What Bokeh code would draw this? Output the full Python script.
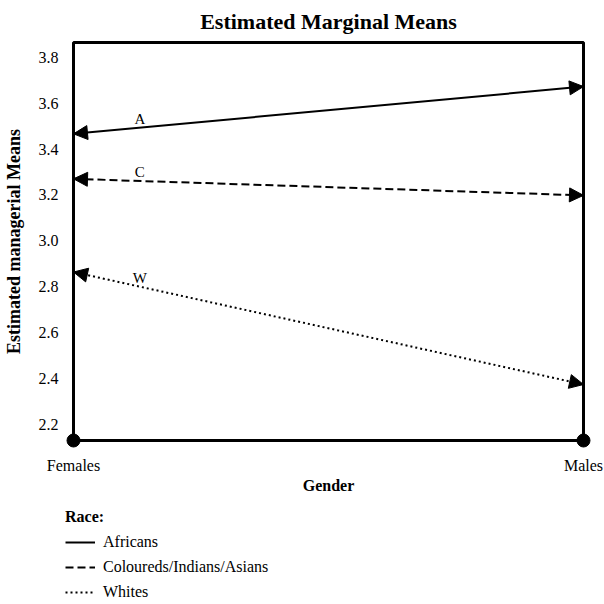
from bokeh.plotting import figure
from bokeh.layouts import column
from bokeh.models import (ColumnDataSource, Range1d, FixedTicker, Arrow, NormalHead,
                          Legend, LegendItem, BoxAnnotation)
from bokeh.embed import file_html
from bokeh.resources import INLINE
from bokeh.core.properties import value

# ---- data ----
genders = ["Females", "Males"]
gender_pos = [0, 1]
races = ["Africans", "Coloureds/Indians/Asians", "Whites"]
race_codes = ["A", "C", "W"]
africans = [3.466, 3.672]
coloureds = [3.270, 3.198]
whites = [2.864, 2.374]
y_ticks = [2.2, 2.4, 2.6, 2.8, 3.0, 3.2, 3.4, 3.6, 3.8]

series = [africans, coloureds, whites]
dashes = ["solid", "8 4", "2 3"]

FONT = "Liberation Serif"
Y_MIN, Y_MAX = 2.13, 3.864
X_MIN, X_MAX = 0, 1

BOX_W, BOX_H, PAD = 510, 398, 8
x_pad = (X_MAX - X_MIN) * PAD / BOX_W
y_pad = (Y_MAX - Y_MIN) * PAD / BOX_H
TOTAL_W = 596

p = figure(output_backend="svg", toolbar_location=None,
           frame_width=BOX_W + 2 * PAD, frame_height=BOX_H + 2 * PAD,
           x_range=Range1d(X_MIN - x_pad, X_MAX + x_pad),
           y_range=Range1d(Y_MIN - y_pad, Y_MAX + y_pad),
           min_border_left=57, min_border_right=13, min_border_top=34,
           min_border_bottom=0)

p.title.text = "Estimated Marginal Means"
p.title.align = "center"
p.title.text_font = FONT
p.title.text_font_size = "22px"
p.title.text_font_style = "bold"
p.title.text_color = "black"
p.title.standoff = 2

p.grid.visible = False
p.outline_line_color = None

# visible box around the data area
p.add_layout(BoxAnnotation(left=X_MIN, right=X_MAX, bottom=Y_MIN, top=Y_MAX,
                           fill_alpha=0, line_color="black", line_alpha=1,
                           line_width=3))

# axes
p.xaxis.ticker = FixedTicker(ticks=gender_pos)
p.xaxis.major_label_overrides = {pos: g for pos, g in zip(gender_pos, genders)}
p.yaxis.ticker = FixedTicker(ticks=y_ticks)
p.yaxis.major_label_overrides = {t: f"{t:.1f}" for t in y_ticks}
for ax in (p.xaxis[0], p.yaxis[0]):
    ax.axis_line_color = None
    ax.major_tick_line_color = None
    ax.minor_tick_line_color = None
    ax.major_tick_out = 0
    ax.major_tick_in = 0
    ax.major_label_text_font = FONT
    ax.major_label_text_font_size = "16px"
    ax.major_label_text_color = "black"
    ax.axis_label_text_font = FONT
    ax.axis_label_text_font_style = "bold"
    ax.axis_label_text_color = "black"
p.xaxis.axis_label = "Gender"
p.yaxis.axis_label = "Estimated managerial Means"
p.xaxis.axis_label_text_font_size = "16px"
p.yaxis.axis_label_text_font_size = "18px"
p.xaxis.major_label_standoff = 8
p.xaxis.axis_label_standoff = 0
p.yaxis.major_label_standoff = 7
p.yaxis.axis_label_standoff = 12

# lines and arrowheads
for vals, dash in zip(series, dashes):
    p.line(gender_pos, vals, line_color="black", line_width=2, line_dash=dash)
    src = ColumnDataSource(dict(x0=[gender_pos[1]], y0=[vals[1]],
                                x1=[gender_pos[0]], y1=[vals[0]]))
    p.add_layout(Arrow(x_start="x0", y_start="y0", x_end="x1", y_end="y1", source=src,
                       line_alpha=0,
                       start=NormalHead(size=14, fill_color="black", line_color="black"),
                       end=NormalHead(size=14, fill_color="black", line_color="black")))

# series code labels near the Females end
lab_x = 0.13
lab_src = ColumnDataSource(dict(
    x=[lab_x] * len(series),
    y=[v[0] + (v[1] - v[0]) * lab_x for v in series],
    t=race_codes))
p.text(x="x", y="y", text="t", source=lab_src, text_align="center",
       text_baseline="alphabetic", y_offset=-9, text_font=value(FONT),
       text_font_size="15px", text_color="black")

# dots at the category positions on the baseline
p.scatter(gender_pos, [Y_MIN] * len(gender_pos), size=13, color="black")

# ---- legend strip below the chart ----
LEG_H = 106
p2 = figure(output_backend="svg", toolbar_location=None,
            width=TOTAL_W, height=LEG_H,
            x_range=Range1d(0, 1), y_range=Range1d(0, 1),
            min_border=0, min_border_left=0, min_border_right=0,
            min_border_top=0, min_border_bottom=0)
p2.axis.visible = False
p2.grid.visible = False
p2.outline_line_color = None
items = []
for vals, dash, name in zip(series, dashes, races):
    # same series; the strip's ranges keep them out of view, only the legend shows
    r = p2.line(gender_pos, vals, line_color="black", line_width=2, line_dash=dash)
    items.append(LegendItem(label=name, renderers=[r]))

legend = Legend(items=items, location=(0, 0), title="Race:",
                title_text_font=FONT, title_text_font_size="16px",
                title_text_font_style="bold", title_text_color="black",
                title_standoff=6,
                label_text_font=FONT, label_text_font_size="16px",
                label_text_color="black",
                label_height=20, glyph_height=20, glyph_width=30,
                label_standoff=8, spacing=5, padding=0, margin=0,
                border_line_color=None, background_fill_alpha=0)
p2.add_layout(legend)

layout = column(p, p2, spacing=0)
open("out.html", "w").write(file_html(layout, INLINE))
